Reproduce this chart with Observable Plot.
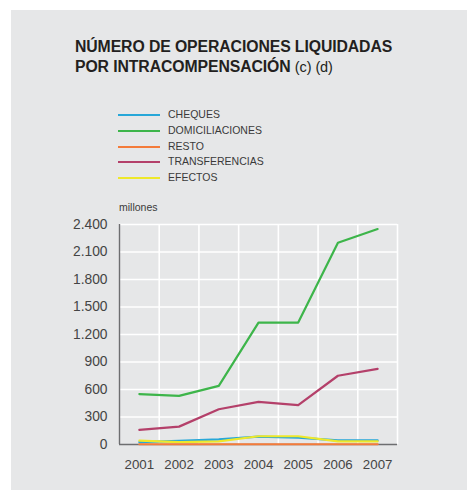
<!DOCTYPE html>
<html>
<head>
<meta charset="utf-8">
<script src="https://cdn.jsdelivr.net/npm/d3@7"></script>
<script src="https://cdn.jsdelivr.net/npm/@observablehq/plot@0.6"></script>
<style>
  html, body { margin: 0; padding: 0; background: #ffffff; }
  body { width: 467px; height: 490px; position: relative; overflow: hidden; font-family: "Liberation Sans", Arial, Helvetica, sans-serif; }
  #panel { position: absolute; left: 11px; top: 10px; width: 456px; height: 480px; background: #e6e7e8; }
  #title { position: absolute; left: 75px; top: 37px; font-size: 15.8px; line-height: 20px; color: #231f20; font-weight: bold; letter-spacing: -0.1px; }
  #title span { font-weight: normal; font-size: 14.5px; }
  #legend { position: absolute; left: 118px; top: 107px; }
  .lrow { position: relative; height: 15.8px; }
  .lrow .sw { position: absolute; left: 0; top: 7px; width: 42px; height: 2px; }
  .lrow .tx { position: absolute; left: 50px; top: 0; font-size: 10.5px; line-height: 15px; color: #3a3a3a; }
  #units { position: absolute; left: 119px; top: 201px; font-size: 10.5px; color: #3a3a3a; }
  #chart { position: absolute; left: 0; top: 190px; }
</style>
</head>
<body>
<div id="panel"></div>
<div id="title">NÚMERO DE OPERACIONES LIQUIDADAS<br>POR INTRACOMPENSACIÓN <span>(c) (d)</span></div>
<div id="legend"></div>
<div id="units">millones</div>
<div id="chart"></div>
<script>
const years = [2001, 2002, 2003, 2004, 2005, 2006, 2007];
const seriesNames = ["CHEQUES", "DOMICILIACIONES", "RESTO", "TRANSFERENCIAS", "EFECTOS"];
const seriesColors = ["#27a7d8", "#3db54a", "#f47b3a", "#b4406a", "#eee82a"];
const cheques = [25, 40, 55, 85, 75, 45, 45];
const domiciliaciones = [550, 530, 640, 1330, 1330, 2200, 2350];
const resto = [3, 3, 3, 3, 3, 3, 3];
const transferencias = [160, 195, 385, 465, 430, 750, 825];
const efectos = [42, 25, 35, 90, 90, 35, 35];
const yTicks = [0, 300, 600, 900, 1200, 1500, 1800, 2100, 2400];

const valuesBySeries = {
  "CHEQUES": cheques,
  "DOMICILIACIONES": domiciliaciones,
  "RESTO": resto,
  "TRANSFERENCIAS": transferencias,
  "EFECTOS": efectos
};
const colorOf = Object.fromEntries(seriesNames.map((n, i) => [n, seriesColors[i]]));
const toRows = name => years.map((y, i) => ({year: y, value: valuesBySeries[name][i], series: name}));

// legend
const legend = document.getElementById("legend");
seriesNames.forEach((n, i) => {
  const row = document.createElement("div");
  row.className = "lrow";
  row.innerHTML = `<div class="sw" style="background:${seriesColors[i]}"></div><div class="tx">${n}</div>`;
  legend.appendChild(row);
});

const esFormat = d3.formatLocale({decimal: ",", thousands: ".", grouping: [3], currency: ["", "€"]}).format(",");
const gridX = years.slice(0, -1).map(y => y + 0.5);

const drawOrder = ["DOMICILIACIONES", "TRANSFERENCIAS", "CHEQUES", "EFECTOS", "RESTO"];

const chart = Plot.plot({
  width: 467,
  height: 300,
  marginLeft: 119,
  marginRight: 70,
  marginTop: 34,
  marginBottom: 46,
  style: {background: "transparent", fontFamily: "'Liberation Sans', Arial, sans-serif", fontSize: "13px", color: "#444444"},
  x: {domain: [2000.5, 2007.5], ticks: years, tickFormat: d => String(d), tickSize: 0, tickPadding: 15, label: null},
  y: {domain: [0, 2400], ticks: yTicks, tickFormat: esFormat, tickSize: 0, tickPadding: 12, label: null},
  marks: [
    Plot.ruleY(yTicks.slice(1), {stroke: "#ffffff", strokeWidth: 1.6}),
    Plot.ruleX(gridX.concat([2007.5]), {stroke: "#ffffff", strokeWidth: 1.6}),
    Plot.ruleX([2000.5], {stroke: "#6d6e70", strokeWidth: 1.4}),
    Plot.ruleY([0], {stroke: "#6d6e70", strokeWidth: 1.4}),
    ...drawOrder.map(n => Plot.line(toRows(n), {x: "year", y: "value", stroke: colorOf[n], strokeWidth: 2.2})),
    Plot.axisX({ticks: years, tickFormat: d => String(d), tickSize: 0, tickPadding: 15, fontSize: 13.3}),
    Plot.axisY({ticks: yTicks, tickFormat: esFormat, tickSize: 0, tickPadding: 12, fontSize: 13.8})
  ]
});
document.getElementById("chart").appendChild(chart);
</script>
</body>
</html>
